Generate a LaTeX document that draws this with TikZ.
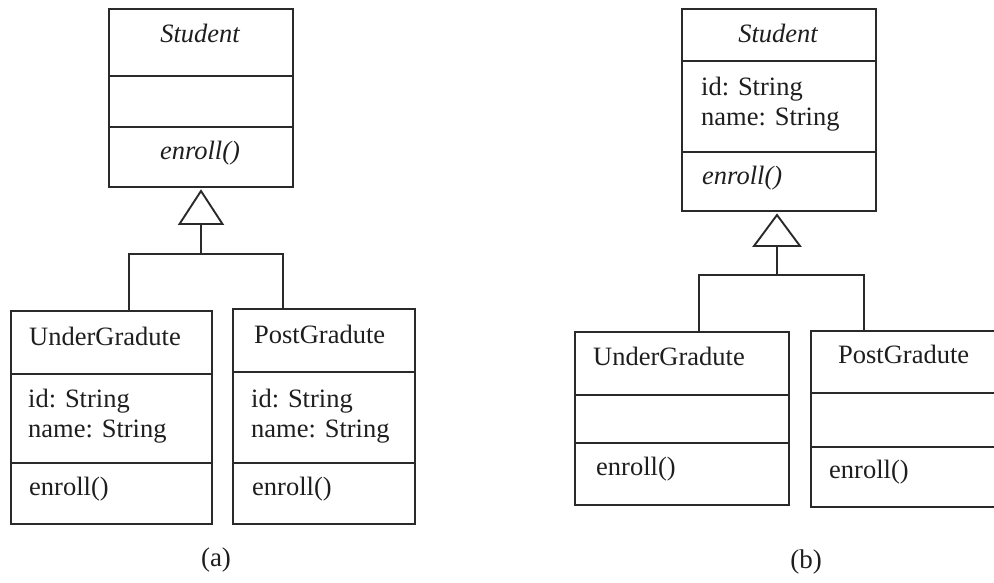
\documentclass[tikz,border=0pt]{standalone}
\usepackage{fontspec}
\setmainfont{Liberation Serif}
\definecolor{linegray}{HTML}{2A2A2A}
\definecolor{textgray}{HTML}{1E1E1E}
\begin{document}
\begin{tikzpicture}[x=1pt,y=-1pt,
  classbox/.style={draw=linegray, line width=1.9pt, inner sep=0pt, anchor=north west},
  sep/.style={draw=linegray, line width=1.9pt},
  txt/.style={inner sep=0pt, anchor=west, text=textgray, align=left,
    font=\fontsize{26.5}{30}\selectfont},
  ttl/.style={txt, anchor=center, font=\fontsize{26.5}{30}\selectfont\itshape},
  optxt/.style={txt, font=\fontsize{26.5}{30}\selectfont\itshape},
  caption/.style={inner sep=0pt, text=textgray, font=\fontsize{27}{30}\selectfont},
  link/.style={draw=linegray, line width=1.9pt},
  genhead/.style={draw=linegray, line width=1.9pt, fill=white, line join=miter}]
\useasboundingbox (0,0) rectangle (994,582);

% ---------------- (a): attributes pushed down into the subclasses
\node[classbox, minimum width=184pt, minimum height=178pt] (stuA) at (108,8) {};
\draw[sep] (108,76) -- (292,76);
\draw[sep] (108,127) -- (292,127);
\node[ttl] (stuAname) at (200,33) {Student};
\node[ttl] (stuAop) at (200,153) {enroll()};

\node[classbox, minimum width=201pt, minimum height=213pt] (ugA) at (10,310) {};
\draw[sep] (10,374) -- (211,374);
\draw[sep] (10,463) -- (211,463);
\node[txt] (ugAname) at (29,336) {UnderGradute};
\node[txt] (ugAattr) at (28,416) {id: String\\name: String};
\node[txt] (ugAop) at (29,489) {enroll()};

\node[classbox, minimum width=182pt, minimum height=215pt] (pgA) at (232,308) {};
\draw[sep] (232,372) -- (414,372);
\draw[sep] (232,463) -- (414,463);
\node[txt] (pgAname) at (254,334) {PostGradute};
\node[txt] (pgAattr) at (251,416) {id: String\\name: String};
\node[txt] (pgAop) at (252,489) {enroll()};

% generalisation arrow (a)
\coordinate (tipA) at (201,191);
\coordinate (baseA) at (201,224);
\coordinate (joinA) at (201,254);
\coordinate (legUA) at (129,310);
\coordinate (legPA) at (283,308);
\draw[genhead] (tipA) -- (179.5,224) -- (222.5,224) -- cycle;
\draw[link] (baseA) -- (joinA);
\draw[link] (legUA) |- (joinA) -| (legPA);

\node[caption] (capA) at (216,560) {(a)};

% ---------------- (b): attributes kept in the superclass
\node[classbox, minimum width=194pt, minimum height=202pt] (stuB) at (681,8) {};
\draw[sep] (681,61) -- (875,61);
\draw[sep] (681,152) -- (875,152);
\node[ttl] (stuBname) at (778,33) {Student};
\node[txt] (stuBattr) at (701,104) {id: String\\name: String};
\node[optxt] (stuBop) at (702,178) {enroll()};

\node[classbox, minimum width=214pt, minimum height=173pt] (ugB) at (574,331) {};
\draw[sep] (574,395) -- (788,395);
\draw[sep] (574,443) -- (788,443);
\node[txt] (ugBname) at (593,356) {UnderGradute};
\node[txt] (ugBop) at (596,469) {enroll()};

\node[classbox, minimum width=190pt, minimum height=176pt] (pgB) at (810,330) {};
\draw[sep] (810,393) -- (1000,393);
\draw[sep] (810,447) -- (1000,447);
\node[txt] (pgBname) at (838,354) {PostGradute};
\node[txt] (pgBop) at (829,472) {enroll()};

% generalisation arrow (b)
\coordinate (tipB) at (777,215);
\coordinate (baseB) at (777,246);
\coordinate (joinB) at (777,275);
\coordinate (legUB) at (699,331);
\coordinate (legPB) at (864,330);
\draw[genhead] (tipB) -- (754,246) -- (800,246) -- cycle;
\draw[link] (baseB) -- (joinB);
\draw[link] (legUB) |- (joinB) -| (legPB);

\node[caption] (capB) at (806,562) {(b)};
\end{tikzpicture}
\end{document}
